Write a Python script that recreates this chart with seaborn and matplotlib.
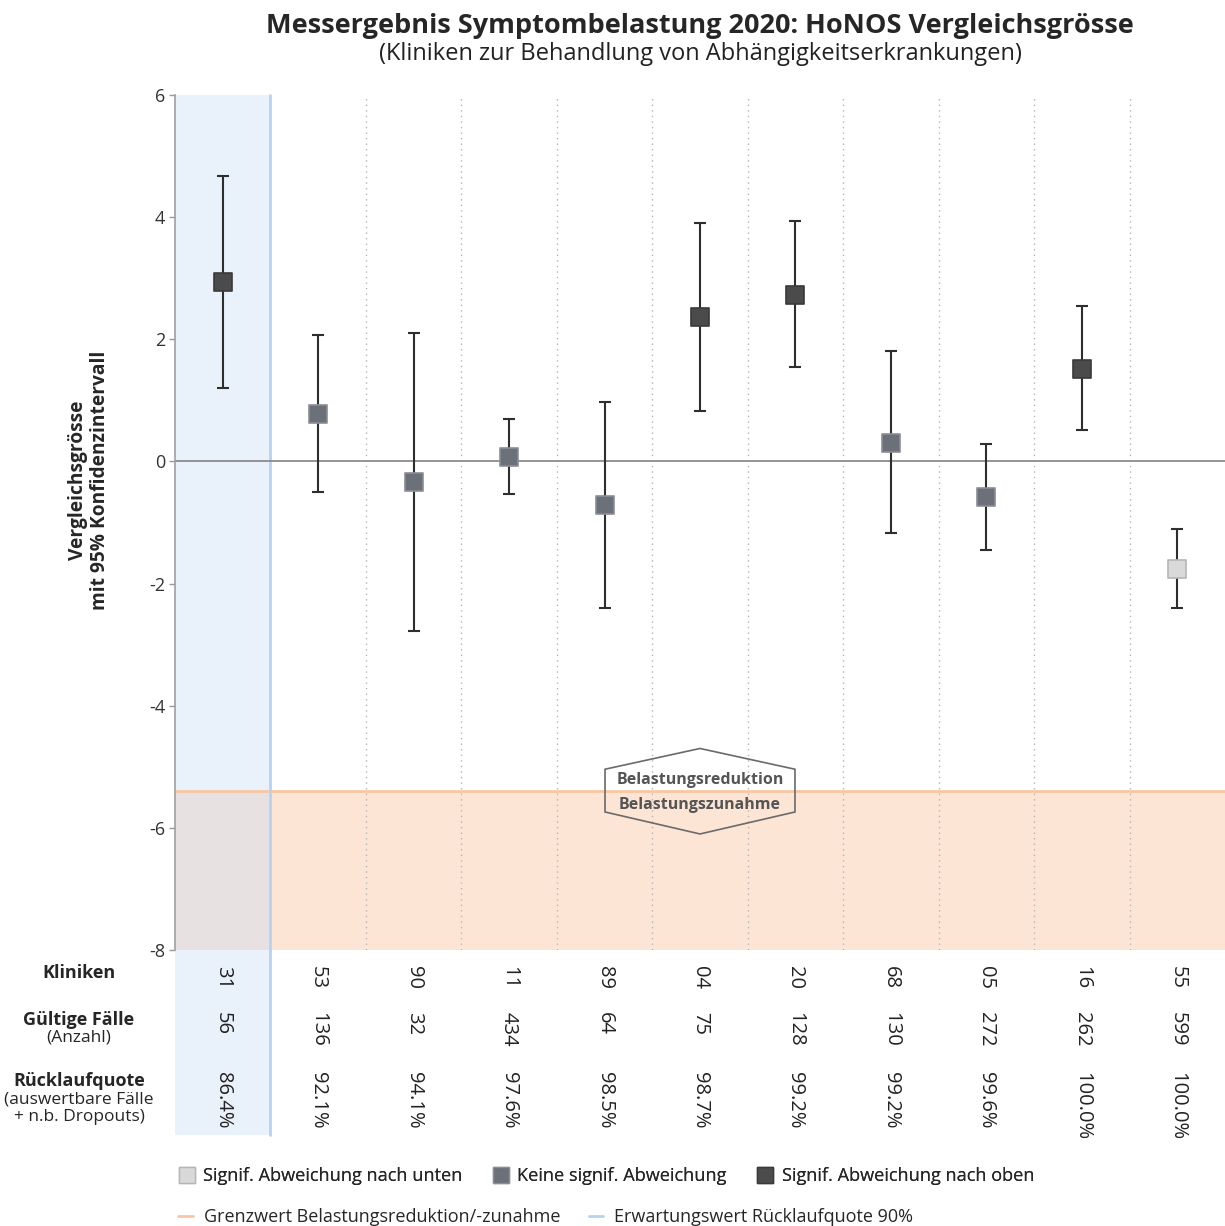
import matplotlib
matplotlib.use("Agg")
import matplotlib.pyplot as plt
from matplotlib.lines import Line2D
from matplotlib.patches import Polygon, Rectangle
import numpy as np
import pandas as pd
import seaborn as sns

# Daten
kliniken = ["31", "53", "90", "11", "89", "04", "20", "68", "05", "16", "55"]
faelle = [56, 136, 32, 434, 64, 75, 128, 130, 272, 262, 599]
ruecklauf = [86.4, 92.1, 94.1, 97.6, 98.5, 98.7, 99.2, 99.2, 99.6, 100.0, 100.0]
wert = [2.93, 0.78, -0.34, 0.08, -0.72, 2.36, 2.73, 0.30, -0.59, 1.52, -1.76]
ki_unten = [1.20, -0.50, -2.78, -0.53, -2.40, 0.83, 1.55, -1.18, -1.45, 0.52, -2.40]
ki_oben = [4.68, 2.07, 2.10, 0.70, 0.97, 3.90, 3.93, 1.80, 0.28, 2.54, -1.10]
signif = ["oben", "keine", "keine", "keine", "keine", "oben", "oben", "keine", "keine", "oben", "unten"]
grenzwert = -5.4

kategorien = ["unten", "keine", "oben"]
legende_txt = ["Signif. Abweichung nach unten", "Keine signif. Abweichung", "Signif. Abweichung nach oben"]
farben = {"unten": "#d9d9d9", "keine": "#6b7079", "oben": "#4b4b4b"}
kanten = {"unten": "#b5b5b5", "keine": "#8a8f96", "oben": "#3a3a3a"}

df = pd.DataFrame({"klinik": kliniken, "wert": wert, "lo": ki_unten, "hi": ki_oben, "signif": signif})
df["pos"] = np.arange(len(df))

sns.set_theme(style="white")
plt.rcParams["font.family"] = ["Open Sans", "DejaVu Sans"]

fig = plt.figure(figsize=(12.25, 12.26), dpi=100)
ax = fig.add_axes([175 / 1225, 1 - 950 / 1226, 1050 / 1225, 855 / 1226])

n = len(df)
ax.set_xlim(-0.5, n - 0.5)
ax.set_ylim(-8, 6)

# Grenzwert-Band
ax.axhspan(-8, grenzwert, color="#fde5d6", zorder=0, lw=0)
ax.axhline(grenzwert, color="#f8c6a4", lw=2, zorder=1)

# Spalten mit Rücklauf < 90% blau hinterlegt, bis in die Tabelle
trans = ax.get_xaxis_transform()
unter = df.index[np.array(ruecklauf) < 90]
for i in unter:
    ax.add_patch(Rectangle((i - 0.5, -0.216), 1, 1.216, transform=trans, facecolor="#c9dcf3",
                           alpha=0.4, lw=0, zorder=0.5, clip_on=False))
    ax.add_line(Line2D([i + 0.5, i + 0.5], [-0.216, 1], transform=trans, color="#b7d3ef", lw=2,
                       zorder=2, clip_on=False))

# Trennlinien
for k in range(1, n):
    if k - 1 in unter:
        continue
    ax.axvline(k - 0.5, color="#b5b5b5", ls=(0, (1, 3)), lw=1, zorder=1)

ax.axhline(0, color="#8c8c8c", lw=1.3, zorder=2)

# Fehlerbalken + Punkte
ax.errorbar(df["pos"], df["wert"], yerr=[df["wert"] - df["lo"], df["hi"] - df["wert"]], fmt="none",
            ecolor="#2e2e2e", elinewidth=1.5, capsize=4.5, capthick=1.5, zorder=3)
for kat in kategorien:
    sub = df[df["signif"] == kat]
    sns.scatterplot(data=sub, x="pos", y="wert", marker="s", s=170, color=farben[kat],
                    edgecolor=kanten[kat], linewidth=1.2, zorder=4, ax=ax, legend=False)

# Hexagon Belastungsreduktion / -zunahme
cx = n // 2
hexa = Polygon([(cx - 0.995, grenzwert + 0.36), (cx, grenzwert + 0.70), (cx + 0.995, grenzwert + 0.36),
                (cx + 0.995, grenzwert - 0.34), (cx, grenzwert - 0.70), (cx - 0.995, grenzwert - 0.34)],
               closed=True, fill=False, edgecolor="#6a6a6a", lw=1.2, zorder=5)
ax.add_patch(hexa)
ax.text(cx, grenzwert + 0.18, "Belastungsreduktion", ha="center", va="center", fontsize=11.5,
        fontweight="bold", color="#555555", zorder=6)
ax.text(cx, grenzwert - 0.23, "Belastungszunahme", ha="center", va="center", fontsize=11.5,
        fontweight="bold", color="#555555", zorder=6)

# Achsen
ax.set_xticks([])
ax.set_yticks(np.arange(-8, 7, 2))
ax.set_yticklabels([str(v) for v in np.arange(-8, 7, 2)], fontsize=13, color="#333333")
ax.tick_params(axis="y", direction="out", length=4, width=1, color="#999999", left=True, pad=3)
ax.set_xlabel("")
ax.set_ylabel("")
for s in ["top", "right", "bottom"]:
    ax.spines[s].set_visible(False)
ax.spines["left"].set_color("#a0a0a0")
ax.spines["left"].set_linewidth(1.2)

fig.text(89 / 1225, 1 - 480 / 1226, "Vergleichsgrösse\nmit 95% Konfidenzintervall", rotation=90,
         ha="center", va="center", fontsize=13.8, fontweight="bold", multialignment="center",
         linespacing=1.1)

# Titel
fig.text(700 / 1225, 1 - 26 / 1226, "Messergebnis Symptombelastung 2020: HoNOS Vergleichsgrösse",
         ha="center", va="center", fontsize=19.5, fontweight="bold")
fig.text(700 / 1225, 1 - 54 / 1226, "(Kliniken zur Behandlung von Abhängigkeitserkrankungen)",
         ha="center", va="center", fontsize=17, color="#222222")

# Tabelle unter der Grafik
def fy(py):
    return 1 - py / 1226

for i, row in df.iterrows():
    ax.text(row["pos"], (950 - 966) / 855, row["klinik"], transform=trans, rotation=-90,
            ha="center", va="top", fontsize=14.5, color="#222222")
    ax.text(row["pos"], (950 - 1012) / 855, str(faelle[i]), transform=trans, rotation=-90,
            ha="center", va="top", fontsize=14.5, color="#222222")
    ax.text(row["pos"], (950 - 1072) / 855, f"{ruecklauf[i]:.1f}%", transform=trans, rotation=-90,
            ha="center", va="top", fontsize=14.5, color="#222222")

fig.text(79 / 1225, fy(973), "Kliniken", ha="center", va="center", fontsize=13, fontweight="bold")
fig.text(79 / 1225, fy(1020), "Gültige Fälle", ha="center", va="center", fontsize=13, fontweight="bold")
fig.text(79 / 1225, fy(1037), "(Anzahl)", ha="center", va="center", fontsize=12.5)
fig.text(79 / 1225, fy(1081), "Rücklaufquote", ha="center", va="center", fontsize=13, fontweight="bold")
fig.text(79 / 1225, fy(1099), "(auswertbare Fälle", ha="center", va="center", fontsize=12.5)
fig.text(79 / 1225, fy(1117), "+ n.b. Dropouts)", ha="center", va="center", fontsize=12.5)

# Legenden
h1 = [Line2D([], [], marker="s", ls="none", markersize=12, markerfacecolor=farben[k],
             markeredgecolor=kanten[k], markeredgewidth=1) for k in kategorien]
leg1 = fig.legend(h1, legende_txt, loc="center left", bbox_to_anchor=(163 / 1225, fy(1176)), ncol=3,
                  frameon=False, fontsize=13.1, handlelength=0.8, handletextpad=0.5, columnspacing=1.72)
h2 = [Line2D([], [], color="#f8c6a4", lw=2), Line2D([], [], color="#b7d3ef", lw=2)]
fig.legend(h2, ["Grenzwert Belastungsreduktion/-zunahme", "Erwartungswert Rücklaufquote 90%"],
           loc="center left", bbox_to_anchor=(162 / 1225, fy(1217)), ncol=2, frameon=False, fontsize=13,
           handlelength=0.8, handletextpad=0.6, columnspacing=1.6)
fig.add_artist(leg1)

plt.savefig("out.png", dpi=100)
plt.close()
